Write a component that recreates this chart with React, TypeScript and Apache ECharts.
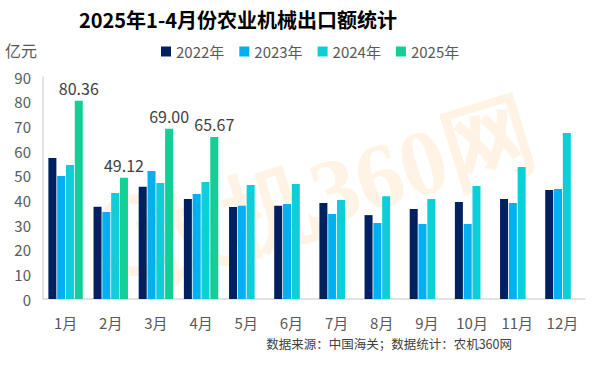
import React, { useEffect, useRef } from "react";
import * as echarts from "echarts";

const months = ["1月", "2月", "3月", "4月", "5月", "6月", "7月", "8月", "9月", "10月", "11月", "12月"];
const seriesNames = ["2022年", "2023年", "2024年", "2025年"];
const y2022 = [57.2, 37.4, 45.5, 40.5, 37.3, 37.8, 38.9, 34.0, 36.5, 39.3, 40.5, 44.2];
const y2023 = [49.9, 35.3, 51.9, 42.6, 37.8, 38.5, 34.5, 30.8, 30.4, 30.4, 38.9, 44.6];
const y2024 = [54.3, 43.0, 47.0, 47.4, 46.2, 46.6, 40.1, 41.7, 40.5, 45.8, 53.5, 67.3];
const y2025 = [80.36, 49.12, 69.0, 65.67, null, null, null, null, null, null, null, null];
const colors = ["#002060", "#00B0F0", "#0ECFD9", "#12CF96"];

const FONT = "'Noto Sans CJK SC', 'Noto Sans', sans-serif";

export default function App() {
  const ref = useRef<HTMLDivElement>(null);
  useEffect(() => {
    if (!ref.current) return;
    const chart = echarts.init(ref.current, undefined, { renderer: "svg" });
    const data = [y2022, y2023, y2024, y2025];
    chart.setOption({
      animation: false,
      textStyle: { fontFamily: FONT },
      title: {
        text: "2025年1-4月份农业机械出口额统计",
        left: 233,
        textAlign: "center",
        top: 4,
        textStyle: { fontSize: 20, fontWeight: "bold", color: "#000", fontFamily: FONT },
      },
      legend: {
        data: seriesNames,
        top: 39,
        left: 156,
        itemWidth: 10,
        itemHeight: 10,
        itemGap: 15,
        icon: "rect",
        textStyle: { fontSize: 15, color: "#595959", fontFamily: FONT },
      },
      grid: { left: 43, right: 17, top: 77, bottom: 93, containLabel: false },
      graphic: [
        {
          type: "text",
          left: 5,
          top: 42,
          style: { text: "亿元", fontSize: 16, fill: "#595959", fontFamily: FONT },
        },
        {
          type: "text",
          right: 90,
          top: 337,
          style: {
            text: "数据来源：中国海关；数据统计：农机360网",
            fontSize: 12.5,
            fill: "#404040",
            fontFamily: FONT,
          },
        },
        {
          type: "arc",
          z: -10,
          shape: { cx: 135, cy: 235, r: 36, startAngle: 0.6, endAngle: 5.6 },
          style: { stroke: "rgba(250, 190, 110, 0.18)", lineWidth: 10, fill: "none" },
        },
        {
          type: "text",
          x: 335,
          y: 190,
          rotation: 0.3,
          z: -10,
          style: {
            text: "农机360网",
            fontSize: 92,
            fontWeight: "bold",
            fontFamily: "serif",
            fill: "rgba(250, 195, 120, 0.2)",
            align: "center",
            verticalAlign: "middle",
          },
        },
      ],
      xAxis: {
        type: "category",
        data: months,
        axisLine: { lineStyle: { color: "#D9D9D9", width: 1.5 } },
        axisTick: { show: false },
        axisLabel: { fontSize: 15, color: "#595959", margin: 16, fontFamily: FONT },
      },
      yAxis: {
        type: "value",
        min: 0,
        max: 90,
        interval: 10,
        axisLine: { show: true, lineStyle: { color: "#D9D9D9", width: 1.5 } },
        axisTick: { show: false },
        splitLine: { show: false },
        axisLabel: { fontSize: 15, color: "#595959", margin: 12, fontFamily: FONT },
      },
      series: seriesNames.map((name, i) => ({
        name,
        type: "bar",
        data: data[i],
        barWidth: 8,
        barGap: "10%",
        itemStyle: { color: colors[i] },
        label:
          i === 3
            ? {
                show: true,
                position: "top",
                distance: 5,
                fontSize: 16,
                color: "#404040",
                fontFamily: FONT,
                formatter: (p: any) => Number(p.value).toFixed(2),
              }
            : { show: false },
      })),
    });
    return () => chart.dispose();
  }, []);
  return <div ref={ref} style={{ width: 602, height: 392, position: "absolute", left: 0, top: 0, background: "#fff" }} />;
}
